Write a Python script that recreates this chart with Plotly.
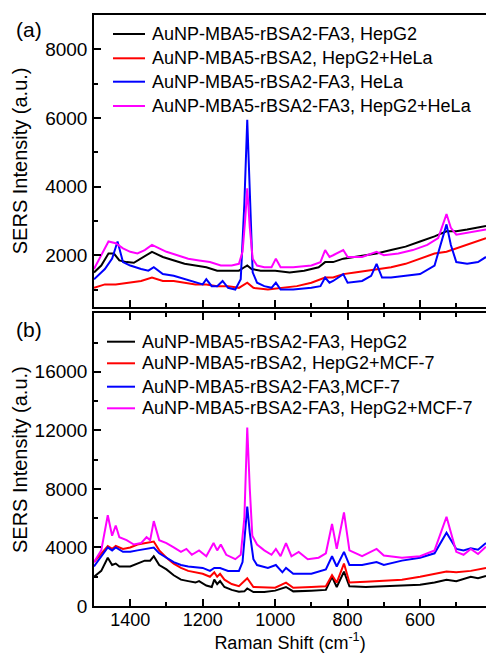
import plotly.graph_objects as go

# ---------------- Panel (a): HeLa co-culture ----------------
wn_a_hepg2 = [1500, 1480, 1460, 1445, 1430, 1410, 1390, 1370, 1340, 1310, 1280, 1250, 1220, 1190,
              1160, 1140, 1120, 1100, 1085, 1077, 1065, 1040, 1000, 960, 920, 880, 862, 840, 812,
              780, 720, 680, 640, 600, 560, 527, 500, 470, 440, 418]
int_a_hepg2 = [1500, 1700, 2050, 2050, 1850, 1800, 1780, 1900, 2100, 1950, 1850, 1750, 1700, 1650,
               1550, 1550, 1550, 1550, 1650, 1700, 1600, 1550, 1550, 1500, 1550, 1650, 1800, 1800, 1900,
               1950, 2050, 2150, 2250, 2400, 2550, 2700, 2700, 2750, 2800, 2850]

wn_a_mix_nofa = [1500, 1470, 1440, 1400, 1370, 1340, 1310, 1280, 1250, 1220, 1190, 1160, 1130, 1100,
                 1077, 1060, 1020, 980, 940, 900, 862, 840, 812, 780, 720, 680, 640, 600, 560, 527,
                 500, 470, 440, 418]
int_a_mix_nofa = [1050, 1150, 1150, 1200, 1250, 1350, 1250, 1250, 1200, 1150, 1150, 1100, 1100, 1050,
                  1200, 1050, 1000, 1050, 1100, 1200, 1350, 1350, 1450, 1500, 1600, 1650, 1750, 1900,
                  2050, 2100, 2200, 2300, 2400, 2500]

wn_a_hela = [1500, 1470, 1450, 1435, 1420, 1400, 1370, 1350, 1335, 1310, 1280, 1250, 1220, 1200, 1190,
             1175, 1160, 1145, 1130, 1110, 1095, 1085, 1077, 1070, 1062, 1050, 1030, 1010, 998, 985,
             950, 900, 875, 862, 850, 840, 812, 800, 760, 735, 720, 705, 680, 640, 600, 560, 540,
             527, 515, 500, 470, 440, 418]
int_a_hela = [1300, 1600, 1900, 2400, 1800, 1700, 1600, 1550, 1650, 1450, 1400, 1300, 1200, 1150, 1300,
              1100, 1100, 1250, 1050, 1000, 1300, 3500, 5950, 3800, 1500, 1200, 1100, 1050, 1200, 1000,
              1000, 1050, 1100, 1350, 1200, 1250, 1450, 1200, 1250, 1400, 1750, 1350, 1350, 1400, 1450,
              1700, 2400, 2900, 2300, 1800, 1750, 1800, 1950]

wn_a_mix = [1500, 1480, 1460, 1440, 1420, 1400, 1380, 1360, 1340, 1320, 1300, 1270, 1240, 1210, 1180,
            1150, 1120, 1100, 1090, 1083, 1077, 1070, 1062, 1050, 1030, 1010, 998, 985, 950, 900, 875,
            862, 850, 840, 812, 800, 760, 720, 700, 660, 620, 580, 550, 527, 515, 500, 470, 440, 418]
int_a_mix = [1600, 2000, 2400, 2350, 2200, 2100, 2050, 2150, 2300, 2200, 2100, 2000, 1900, 1850, 1800,
             1700, 1700, 1750, 2100, 3000, 3950, 2800, 1900, 1700, 1650, 1650, 1900, 1650, 1650, 1700,
             1800, 2150, 1950, 2000, 2150, 1950, 1950, 2100, 2000, 2050, 2150, 2300, 2500, 3200, 2800,
             2600, 2650, 2700, 2750]

# ---------------- Panel (b): MCF-7 co-culture ----------------
wn_b_hepg2 = [1500, 1480, 1462, 1450, 1440, 1430, 1400, 1380, 1360, 1345, 1335, 1320, 1300, 1280, 1260,
              1240, 1220, 1210, 1190, 1175, 1168, 1160, 1152, 1140, 1120, 1100, 1085, 1077, 1060, 1030,
              1000, 970, 950, 900, 860, 843, 830, 810, 795, 750, 700, 650, 600, 560, 527, 500, 460,
              440, 418]
int_b_hepg2 = [2000, 2400, 3300, 2800, 2900, 2700, 2700, 2900, 3100, 3100, 3400, 2800, 2500, 2100, 1800,
               1700, 1600, 1700, 1400, 1300, 1800, 1500, 1700, 1300, 1100, 980, 1000, 1200, 950, 950,
               1050, 1300, 1000, 1050, 1100, 2000, 1300, 2350, 1350, 1300, 1350, 1400, 1450, 1600, 1800,
               1700, 2000, 1900, 2050]

wn_b_mix_nofa = [1500, 1462, 1450, 1440, 1420, 1400, 1380, 1350, 1335, 1320, 1300, 1280, 1260, 1240,
                 1220, 1200, 1180, 1168, 1160, 1152, 1140, 1120, 1100, 1077, 1060, 1000, 970, 950, 900,
                 860, 843, 830, 810, 795, 750, 700, 650, 600, 527, 500, 460, 418]
int_b_mix_nofa = [3000, 4100, 3900, 4100, 3900, 4000, 4200, 4300, 4400, 3800, 3300, 2900, 2600, 2400,
                  2300, 2200, 2000, 2300, 2000, 2200, 1800, 1500, 1350, 1900, 1300, 1250, 1600, 1250,
                  1300, 1350, 2100, 1600, 2900, 1600, 1650, 1700, 1800, 2000, 2350, 2300, 2400, 2600]

wn_b_mcf7 = [1500, 1462, 1450, 1440, 1420, 1400, 1380, 1350, 1335, 1320, 1300, 1280, 1260, 1240, 1200,
             1180, 1168, 1152, 1130, 1100, 1090, 1082, 1077, 1070, 1060, 1050, 1020, 998, 980, 970,
             950, 900, 860, 843, 830, 810, 795, 760, 720, 700, 650, 600, 560, 527, 500, 480, 460, 440,
             418]
int_b_mcf7 = [2700, 4000, 3800, 4000, 3700, 3700, 3800, 3900, 4000, 3600, 3300, 3000, 2800, 2700, 2600,
              2400, 2600, 2600, 2400, 2400, 3000, 5500, 6800, 5000, 3200, 2800, 2600, 2800, 2300, 2600,
              2200, 2200, 2500, 3400, 2700, 3700, 2800, 2800, 3000, 2800, 3100, 3300, 3600, 5000, 3900,
              3800, 3950, 3850, 4300]

wn_b_mix = [1500, 1480, 1462, 1450, 1440, 1430, 1410, 1390, 1370, 1355, 1345, 1335, 1320, 1300, 1280,
            1260, 1245, 1230, 1210, 1190, 1170, 1160, 1150, 1135, 1110, 1095, 1085, 1077, 1070, 1063,
            1050, 1030, 1010, 998, 985, 970, 955, 935, 910, 880, 860, 843, 830, 810, 795, 760, 720,
            700, 650, 600, 560, 527, 500, 480, 460, 440, 418]
int_b_mix = [3000, 3800, 6200, 4800, 5500, 4700, 4500, 4200, 4300, 4700, 4500, 5800, 4500, 4300, 4000,
             3700, 3900, 3500, 3800, 3400, 4300, 3800, 4200, 3500, 3200, 3500, 6000, 12200, 8000, 4800,
             4200, 3800, 3500, 3900, 3400, 4300, 3400, 3700, 3200, 3300, 3600, 5600, 3900, 6400, 3800,
             3400, 3900, 3450, 3300, 3400, 3800, 6100, 3700, 3500, 3900, 3550, 4050]

names_a = ["AuNP-MBA5-rBSA2-FA3, HepG2",
           "AuNP-MBA5-rBSA2, HepG2+HeLa",
           "AuNP-MBA5-rBSA2-FA3, HeLa",
           "AuNP-MBA5-rBSA2-FA3, HepG2+HeLa"]
names_b = ["AuNP-MBA5-rBSA2-FA3, HepG2",
           "AuNP-MBA5-rBSA2, HepG2+MCF-7",
           "AuNP-MBA5-rBSA2-FA3,MCF-7",
           "AuNP-MBA5-rBSA2-FA3, HepG2+MCF-7"]
colors = ["#000000", "#ff0000", "#0000ff", "#ff00ff"]

series_a = [(wn_a_hepg2, int_a_hepg2), (wn_a_mix_nofa, int_a_mix_nofa),
            (wn_a_hela, int_a_hela), (wn_a_mix, int_a_mix)]
series_b = [(wn_b_hepg2, int_b_hepg2), (wn_b_mix_nofa, int_b_mix_nofa),
            (wn_b_mcf7, int_b_mcf7), (wn_b_mix, int_b_mix)]

FONT = "Liberation Sans, Arial, sans-serif"
W, H = 486, 654
ML, MR, MT, MB = 94, 0, 15, 48


def px_to_paper(px, py):
    """Convert figure pixel position to paper coordinates of the plotting area."""
    return (px - ML) / (W - ML - MR), (H - MB - py) / (H - MT - MB)


fig = go.Figure()

for (x, y), name, c in zip(series_a, names_a, colors):
    fig.add_trace(go.Scatter(x=x, y=y, name=name, mode="lines", showlegend=False,
                             line=dict(color=c, width=2), xaxis="x", yaxis="y"))
for (x, y), name, c in zip(series_b, names_b, colors):
    fig.add_trace(go.Scatter(x=x, y=y, name=name, mode="lines", showlegend=False,
                             line=dict(color=c, width=2), xaxis="x2", yaxis="y2"))

# Legend blocks: line sample + label per series
shapes, annotations = [], []
legend_specs = [
    (names_a, 113, 145, 150, [34, 58.3, 81.7, 106]),
    (names_b, 107, 135, 140, [341.7, 363.3, 386.7, 408.3]),
]
for names, lx0, lx1, tx, rows in legend_specs:
    for name, c, ry in zip(names, colors, rows):
        x0, y0 = px_to_paper(lx0, ry)
        x1, _ = px_to_paper(lx1, ry)
        shapes.append(dict(type="line", xref="paper", yref="paper", x0=x0, x1=x1, y0=y0, y1=y0,
                           line=dict(color=c, width=2)))
        xt, yt = px_to_paper(tx, ry)
        annotations.append(dict(text=name, x=xt, y=yt, xref="paper", yref="paper", showarrow=False,
                                xanchor="left", yanchor="middle",
                                font=dict(family=FONT, size=18, color="black")))

for label, (cx, cy) in [("(a)", (29, 29)), ("(b)", (29, 329))]:
    xa, ya = px_to_paper(cx, cy)
    annotations.append(dict(text=label, x=xa, y=ya, xref="paper", yref="paper", showarrow=False,
                            xanchor="center", yanchor="middle",
                            font=dict(family=FONT, size=21, color="black")))

axis_common = dict(showline=True, linecolor="black", linewidth=1.5, ticks="inside",
                   tickcolor="black", tickwidth=1.5, ticklen=7, showgrid=False, zeroline=False)
minor_x = dict(ticks="inside", ticklen=4, tickwidth=1.5, tickcolor="black", dtick=100, tick0=400)

fig.update_layout(
    width=W, height=H,
    margin=dict(l=ML, r=MR, t=MT, b=MB),
    paper_bgcolor="white", plot_bgcolor="white",
    font=dict(family=FONT, size=18, color="black"),
    showlegend=False,
    xaxis=dict(axis_common, domain=[0, 1], range=[1500, 418], anchor="y", mirror=True,
               showticklabels=False, tick0=400, dtick=200, minor=minor_x),
    yaxis=dict(axis_common, domain=[0.5064, 1], range=[500, 9000], anchor="x",
               tick0=0, dtick=2000, tickformat="d", ticklabelstandoff=1,
               tickfont=dict(family=FONT, size=19, color="black"),
               minor=dict(ticks="inside", ticklen=4, tickwidth=1.5, tickcolor="black", dtick=1000, tick0=0),
               title=dict(text="SERS Intensity (a.u.)", font=dict(family=FONT, size=20), standoff=12)),
    xaxis2=dict(axis_common, domain=[0, 1], range=[1500, 418], anchor="y2", mirror="ticks",
                tick0=400, dtick=200, ticklabelstandoff=-3,
                tickfont=dict(family=FONT, size=18, color="black"), minor=minor_x,
                title=dict(text="Raman Shift (cm<sup>-1</sup>)", font=dict(family=FONT, size=18), standoff=7)),
    yaxis2=dict(axis_common, domain=[0, 0.4953], range=[0, 20000], anchor="x2",
                tickvals=[0, 4000, 8000, 12000, 16000], tickformat="d", ticklabelstandoff=1,
                tickfont=dict(family=FONT, size=19, color="black"),
                minor=dict(ticks="inside", ticklen=4, tickwidth=1.5, tickcolor="black", dtick=2000, tick0=0),
                title=dict(text="SERS Intensity (a.u.)", font=dict(family=FONT, size=20), standoff=2)),
    shapes=shapes,
    annotations=annotations,
)

fig.write_html("out.html")
